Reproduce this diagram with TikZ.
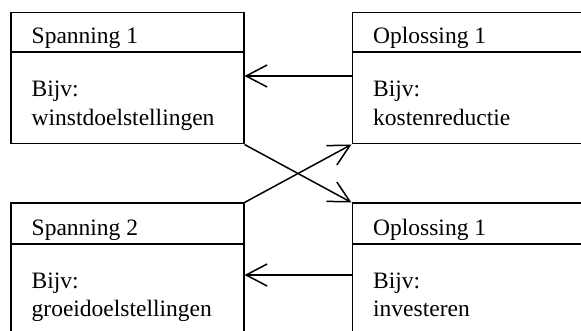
\documentclass[tikz,border=0pt]{standalone}
\usepackage{fontspec}
\setmainfont{Liberation Serif}
\usetikzlibrary{arrows.meta,calc}

\tikzset{
  box/.style={draw, line width=1.5pt, rectangle, inner sep=0pt, anchor=north west,
              minimum width=233pt, minimum height=131pt},
  divider/.style={line width=1.5pt},
  title/.style={anchor=base west, inner sep=0pt},
  body/.style={anchor=base west, inner sep=0pt, align=left},
  link/.style={line width=1.5pt, -{Straight Barb[length=21pt, width=22pt, line width=1.5pt]}},
  txt/.style={font=\fontsize{23.5pt}{29.3pt}\selectfont}
}

\begin{document}
\begin{tikzpicture}[x=1pt, y=-1pt, txt]
  \clip (0,0) rectangle (581,331);
  \useasboundingbox (0,0) rectangle (581,331);

  % four boxes
  \node[box] (S1) at (10,12) {};
  \node[box] (O1) at (351.5,12) {};
  \node[box] (S2) at (10,202.5) {};
  \node[box] (O2) at (351.5,202.5) {};

  % header dividers
  \draw[divider] ($(S1.north west)+(0,40)$) -- ($(S1.north east)+(0,40)$);
  \draw[divider] ($(O1.north west)+(0,40)$) -- ($(O1.north east)+(0,40)$);
  \draw[divider] ($(S2.north west)+(0,41.5)$) -- ($(S2.north east)+(0,41.5)$);
  \draw[divider] ($(O2.north west)+(0,41.5)$) -- ($(O2.north east)+(0,41.5)$);

  % titles
  \node[title] (S1t) at ($(S1.north west)+(21.5,31.5)$) {Spanning 1};
  \node[title] (O1t) at ($(O1.north west)+(21.5,31.5)$) {Oplossing 1};
  \node[title] (S2t) at ($(S2.north west)+(21.5,33)$) {Spanning 2};
  \node[title] (O2t) at ($(O2.north west)+(21.5,33)$) {Oplossing 1};

  % bodies
  \node[body] (S1b) at ($(S1.north west)+(21.5,84.5)$) {Bijv:};
  \node[body] (S1c) at ($(S1.north west)+(21.5,114)$) {winstdoelstellingen};
  \node[body] (O1b) at ($(O1.north west)+(21.5,84.5)$) {Bijv:};
  \node[body] (O1c) at ($(O1.north west)+(21.5,114)$) {kostenreductie};
  \node[body] (S2b) at ($(S2.north west)+(21.5,85.5)$) {Bijv:};
  \node[body] (S2c) at ($(S2.north west)+(21.5,114)$) {groeidoelstellingen};
  \node[body] (O2b) at ($(O2.north west)+(21.5,85.5)$) {Bijv:};
  \node[body] (O2c) at ($(O2.north west)+(21.5,114)$) {investeren};

  % connectors
  \draw[link] ($(O1.north west)+(0,64)$) -- ($(S1.north east)+(0,64)$);
  \draw[link] ($(O2.north west)+(0,72.5)$) -- ($(S2.north east)+(0,72.5)$);
  \draw[link] (S1.south east) -- (O2.north west);
  \draw[link] (S2.north east) -- (O1.south west);
\end{tikzpicture}
\end{document}
